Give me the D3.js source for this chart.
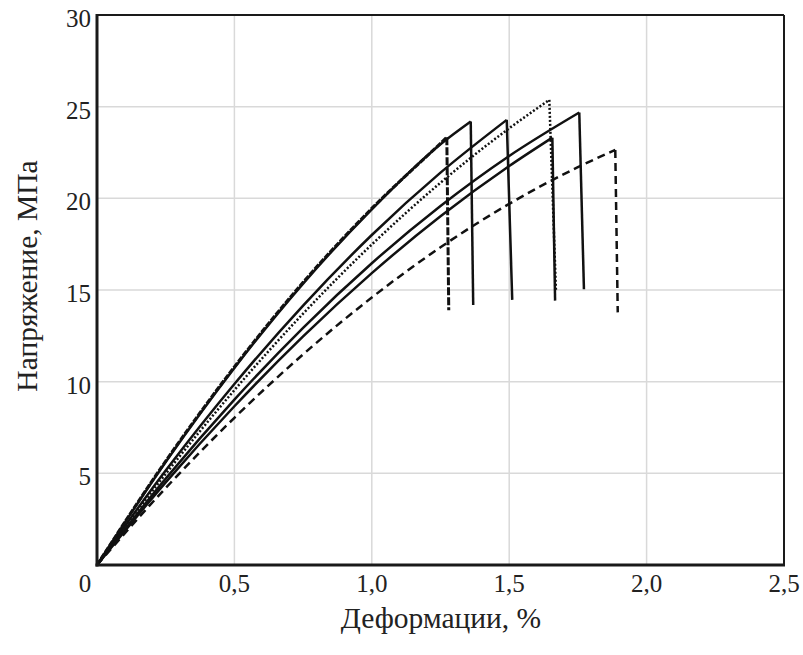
<!DOCTYPE html>
<html>
<head>
<meta charset="utf-8">
<script src="https://cdn.jsdelivr.net/npm/d3@7"></script>
<style>
  html, body { margin: 0; padding: 0; background: #fff; }
  svg { display: block; }
  text { font-family: "Liberation Serif", "Times New Roman", serif; fill: #222; }
</style>
</head>
<body>
<svg id="chart" width="803" height="655"></svg>
<script>
// ---- Data ----
const xTicks = [0, 0.5, 1.0, 1.5, 2.0, 2.5];
const xTickLabels = ["0", "0,5", "1,0", "1,5", "2,0", "2,5"];
const yTicks = [5, 10, 15, 20, 25, 30];
const yTickLabels = ["5", "10", "15", "20", "25", "30"];
const xTitle = "Деформации, %";
const yTitle = "Напряжение, МПа";

// each curve: rising strain/stress points, then the point where the drop ends
const curve1Strain = [0, 0.25, 0.5, 0.75, 1.0, 1.25, 1.273];
const curve1Stress = [0, 5.67, 10.81, 15.42, 19.45, 23.0, 23.33];
const curve1Drop   = [1.28, 13.9];

const curve2Strain = [0, 0.25, 0.5, 0.75, 1.0, 1.25, 1.36];
const curve2Stress = [0, 5.62, 10.75, 15.35, 19.4, 22.95, 24.19];
const curve2Drop   = [1.369, 14.18];

const curve3Strain = [0, 0.25, 0.5, 0.75, 1.0, 1.25, 1.491];
const curve3Stress = [0, 5.15, 9.87, 14.15, 18.0, 21.4, 24.28];
const curve3Drop   = [1.511, 14.46];

const curve4Strain = [0, 0.25, 0.5, 0.75, 1.0, 1.25, 1.5, 1.646];
const curve4Stress = [0, 4.97, 9.54, 13.71, 17.48, 20.85, 23.82, 25.37];
const curve4Drop   = [1.67, 15.0];

const curve5Strain = [0, 0.25, 0.5, 0.75, 1.0, 1.25, 1.5, 1.657];
const curve5Stress = [0, 4.51, 8.66, 12.47, 15.92, 19.02, 21.76, 23.31];
const curve5Drop   = [1.667, 14.42];

const curve6Strain = [0, 0.25, 0.5, 0.75, 1.0, 1.25, 1.5, 1.755];
const curve6Stress = [0, 4.71, 9.02, 12.94, 16.46, 19.58, 22.31, 24.68];
const curve6Drop   = [1.772, 15.04];

const curve7Strain = [0, 0.25, 0.5, 0.75, 1.0, 1.25, 1.5, 1.75, 1.886];
const curve7Stress = [0, 4.2, 8.03, 11.49, 14.59, 17.33, 19.7, 21.7, 22.64];
const curve7Drop   = [1.895, 13.78];

// ---- Layout ----
const svg = d3.select("#chart");
const mLeft = 97, mRight = 784, mTop = 15, mBottom = 565;
const x = d3.scaleLinear().domain([0, 2.5]).range([mLeft, mRight]);
const y = d3.scaleLinear().domain([0, 30]).range([mBottom, mTop]);

// grid
const grid = svg.append("g");
grid.selectAll("line.gx").data(xTicks.slice(1, -1)).join("line")
  .attr("x1", d => x(d)).attr("x2", d => x(d))
  .attr("y1", mTop).attr("y2", mBottom)
  .attr("stroke", "#d9d9d9").attr("stroke-width", 1.5);
grid.selectAll("line.gy").data(yTicks.slice(0, -1)).join("line")
  .attr("x1", mLeft).attr("x2", mRight)
  .attr("y1", d => y(d)).attr("y2", d => y(d))
  .attr("stroke", "#d9d9d9").attr("stroke-width", 1.5);

// curves
const styles = [
  { s: curve2Strain, v: curve2Stress, d: curve2Drop, dash: null, w: 2.5 },
  { s: curve3Strain, v: curve3Stress, d: curve3Drop, dash: null, w: 2.5 },
  { s: curve5Strain, v: curve5Stress, d: curve5Drop, dash: null, w: 2.5 },
  { s: curve6Strain, v: curve6Stress, d: curve6Drop, dash: null, w: 2.5 },
  { s: curve7Strain, v: curve7Stress, d: curve7Drop, dash: "8,5", w: 2.5 },
  { s: curve4Strain, v: curve4Stress, d: curve4Drop, dash: "2,2", w: 2.5 },
  { s: curve1Strain, v: curve1Stress, d: curve1Drop, dash: "6,1.5", w: 3 }
];
const line = d3.line().x(d => x(d[0])).y(d => y(d[1])).curve(d3.curveMonotoneX);
const lineStraight = d3.line().x(d => x(d[0])).y(d => y(d[1]));
const cg = svg.append("g").attr("fill", "none").attr("stroke", "#111").attr("stroke-linejoin", "miter");
styles.forEach(c => {
  const pts = c.s.map((e, i) => [e, c.v[i]]);
  const p = cg.append("path").attr("d", line(pts)).attr("stroke-width", c.w);
  if (c.dash) p.attr("stroke-dasharray", c.dash);
  const dropPts = [pts[pts.length - 1], c.d];
  const q = cg.append("path").attr("d", lineStraight(dropPts)).attr("stroke-width", c.w);
  if (c.dash) q.attr("stroke-dasharray", c.dash === "6,1.5" ? "8,2" : c.dash);
});

// frame
svg.append("line").attr("x1", mLeft).attr("x2", mRight).attr("y1", mTop).attr("y2", mTop)
  .attr("stroke", "#1a1a1a").attr("stroke-width", 2);
svg.append("line").attr("x1", mRight).attr("x2", mRight).attr("y1", mTop).attr("y2", mBottom)
  .attr("stroke", "#1a1a1a").attr("stroke-width", 2);
svg.append("line").attr("x1", mLeft).attr("x2", mLeft).attr("y1", mTop - 1).attr("y2", mBottom + 1.5)
  .attr("stroke", "#1a1a1a").attr("stroke-width", 3);
svg.append("line").attr("x1", mLeft - 1.5).attr("x2", mRight + 1).attr("y1", mBottom).attr("y2", mBottom)
  .attr("stroke", "#1a1a1a").attr("stroke-width", 3);

// tick labels
const tl = svg.append("g").style("font-size", "25px");
tl.selectAll("text.xt").data(xTicks).join("text")
  .attr("x", (d, i) => i === 0 ? x(d) - 12 : x(d))
  .attr("y", 592)
  .attr("text-anchor", "middle")
  .text((d, i) => xTickLabels[i]);
tl.selectAll("text.yt").data(yTicks).join("text")
  .attr("x", mLeft - 6)
  .attr("y", d => y(d) + 12)
  .attr("text-anchor", "end")
  .text((d, i) => yTickLabels[i]);

// axis titles
svg.append("text").attr("x", 441).attr("y", 628).attr("text-anchor", "middle")
  .style("font-size", "29.5px").text(xTitle);
svg.append("text").attr("transform", "translate(37,276) rotate(-90)").attr("text-anchor", "middle")
  .style("font-size", "29.5px").text(yTitle);
</script>
</body>
</html>
